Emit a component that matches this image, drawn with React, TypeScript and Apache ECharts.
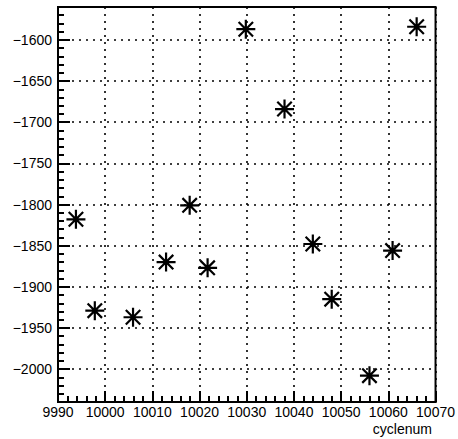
import React, { useEffect, useRef } from "react";
import * as echarts from "echarts";

const cycleNum: number[] = [9993.8, 9997.8, 10005.9, 10012.9, 10017.9, 10021.7, 10029.8, 10038.0, 10044.0, 10048.0, 10056.0, 10060.9, 10066.0];
const values: number[] = [-1818, -1929, -1937, -1870, -1801, -1877, -1587, -1684, -1848, -1915, -2008, -1856, -1584];
const xTickLabels: string[] = ["9990", "10000", "10010", "10020", "10030", "10040", "10050", "10060", "10070"];
const xTitle = "cyclenum";

const X_MIN = 9990;
const X_MAX = 10070;
const Y_MIN = -2040;
const Y_MAX = -1560;

const STAR = "path://M0 5 L10 5 M5 0 L5 10 M1.2 1.2 L8.8 8.8 M8.8 1.2 L1.2 8.8";
const FONT = "'Liberation Sans', Arial, Helvetica, sans-serif";
const fmtMinus = (v: number) => String(v).replace("-", "\u2212");

export default function App() {
  const ref = useRef<HTMLDivElement>(null);
  useEffect(() => {
    if (!ref.current) return;
    const chart = echarts.init(ref.current, undefined, { renderer: "svg" });
    const dotted = { color: "#000", width: 1.6, type: [2, 5] as number[] };
    chart.setOption({
      animation: false,
      backgroundColor: "#fff",
      grid: {
        left: 58,
        right: 22,
        top: 7,
        bottom: 37,
        show: true,
        borderColor: "#000",
        borderWidth: 2,
        backgroundColor: "transparent",
      },
      xAxis: {
        type: "value",
        min: X_MIN,
        max: X_MAX,
        interval: 10,
        axisLine: { show: true, lineStyle: { color: "#000", width: 2 } },
        axisTick: { show: true, inside: true, length: 11, lineStyle: { color: "#000", width: 2 } },
        minorTick: { show: true, splitNumber: 5, length: 6, lineStyle: { color: "#000", width: 2 } },
        axisLabel: {
          color: "#000",
          fontFamily: FONT,
          fontSize: 14,
          margin: 3,
          formatter: (v: number) => {
            const i = Math.round((v - X_MIN) / 10);
            return xTickLabels[i] ?? String(v);
          },
        },
        splitLine: { show: true, lineStyle: dotted },
      },
      yAxis: [
        {
          type: "value",
          min: Y_MIN,
          max: Y_MAX,
          splitNumber: 10,
          minInterval: 50,
          maxInterval: 50,
          position: "left",
          axisLine: { show: true, lineStyle: { color: "#000", width: 2 } },
          axisTick: { show: true, inside: true, length: 12, lineStyle: { color: "#000", width: 2 } },
          axisLabel: {
            color: "#000",
            fontFamily: FONT,
            fontSize: 14,
            margin: 6,
            showMinLabel: false,
            showMaxLabel: false,
            formatter: (v: number) => (v % 50 === 0 ? fmtMinus(v) : ""),
          },
          splitLine: { show: true, lineStyle: dotted },
        },
        {
          type: "value",
          min: Y_MIN,
          max: Y_MAX,
          interval: 10,
          position: "left",
          offset: 0,
          axisLine: { show: false },
          axisTick: { show: true, inside: true, length: 6, lineStyle: { color: "#000", width: 2 } },
          axisLabel: { show: false },
          splitLine: { show: false },
        },
      ],
      graphic: [
        {
          type: "text",
          right: 26,
          top: 422,
          style: { text: xTitle, fill: "#000", font: `14px ${FONT}` },
        },
      ],
      series: [
        {
          type: "scatter",
          yAxisIndex: 0,
          symbol: STAR,
          symbolSize: 19,
          data: cycleNum.map((x, i) => [x, values[i]]),
          itemStyle: { color: "transparent", borderColor: "#000", borderWidth: 2.2, opacity: 1 },
          z: 5,
        },
      ],
    });
    return () => chart.dispose();
  }, []);
  return <div ref={ref} style={{ position: "absolute", left: 0, top: 0, width: 458, height: 439 }} />;
}
